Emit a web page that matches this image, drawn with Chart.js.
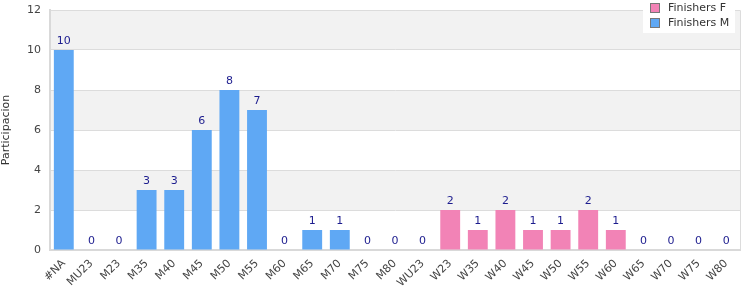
<!DOCTYPE html>
<html>
<head>
<meta charset="utf-8">
<script src="https://cdn.jsdelivr.net/npm/chart.js@4"></script>
<style>
  html, body { margin: 0; padding: 0; background: #fff; }
  #wrap { width: 750px; height: 300px; }
</style>
</head>
<body>
<div id="wrap"><canvas id="barChart" width="750" height="300"></canvas></div>
<script>
// categorias
const categories = ['#NA', 'MU23', 'M23', 'M35', 'M40', 'M45', 'M50', 'M55', 'M60', 'M65', 'M70', 'M75', 'M80',
  'WU23', 'W23', 'W35', 'W40', 'W45', 'W50', 'W55', 'W60', 'W65', 'W70', 'W75', 'W80'];
// finishers por categoria (null = no pertenece a la serie)
const finishersM = [10, 0, 0, 3, 3, 6, 8, 7, 0, 1, 1, 0, 0, 0, null, null, null, null, null, null, null, null, null, null, null];
const finishersF = [null, null, null, null, null, null, null, null, null, null, null, null, null, null, 2, 1, 2, 1, 1, 2, 1, 0, 0, 0, 0];
const yTicks = [0, 2, 4, 6, 8, 10, 12];

const FONT = 'DejaVu Sans';

// Bandas alternas de fondo y borde del area
const bandsPlugin = {
  id: 'bands',
  beforeDraw(chart) {
    const { ctx, chartArea, scales } = chart;
    const w = chartArea.right - chartArea.left;
    ctx.save();
    ctx.fillStyle = '#f2f2f2';
    [2, 6, 10].forEach(v => {
      const top = scales.y.getPixelForValue(v + 2);
      const bot = scales.y.getPixelForValue(v);
      ctx.fillRect(chartArea.left, top, w, bot - top);
    });
    ctx.strokeStyle = '#dcdcdc';
    ctx.lineWidth = 1;
    ctx.beginPath();
    ctx.moveTo(chartArea.left, chartArea.top + 0.5);
    ctx.lineTo(chartArea.right + 0.5, chartArea.top + 0.5);
    ctx.lineTo(chartArea.right + 0.5, chartArea.bottom);
    ctx.stroke();
    ctx.restore();
  }
};

// Etiquetas de valor y leyenda
const labelsPlugin = {
  id: 'valueLabels',
  afterDatasetsDraw(chart) {
    const { ctx } = chart;
    ctx.save();
    ctx.font = '11px ' + FONT;
    ctx.fillStyle = '#1c1c8e';
    ctx.textAlign = 'center';
    ctx.textBaseline = 'bottom';
    chart.data.datasets.forEach((ds, i) => {
      chart.getDatasetMeta(i).data.forEach((bar, j) => {
        const v = ds.data[j];
        if (v === null) return;
        ctx.fillText(String(v), bar.x, bar.y - 3);
      });
    });
    ctx.restore();
  },
  afterDraw(chart) {
    const { ctx } = chart;
    ctx.save();
    const x0 = 643, y0 = 0, w = 92, h = 33;
    ctx.fillStyle = '#ffffff';
    ctx.fillRect(x0, y0, w, h);
    ctx.font = '11px ' + FONT;
    ctx.textBaseline = 'middle';
    ctx.textAlign = 'left';
    chart.data.datasets.forEach((ds, i) => {
      const cy = 8 + i * 15;
      ctx.fillStyle = ds.backgroundColor;
      ctx.fillRect(651, cy - 4, 8, 8);
      ctx.strokeStyle = '#777';
      ctx.lineWidth = 1;
      ctx.strokeRect(650.5, cy - 4.5, 9, 9);
      ctx.fillStyle = '#333';
      ctx.fillText(ds.label, 668, cy);
    });
    ctx.restore();
  }
};

new Chart(document.getElementById('barChart').getContext('2d'), {
  type: 'bar',
  data: {
    labels: categories,
    datasets: [
      { label: 'Finishers F', data: finishersF, backgroundColor: '#f283b6' },
      { label: 'Finishers M', data: finishersM, backgroundColor: '#5fa8f4' }
    ]
  },
  options: {
    responsive: false,
    animation: false,
    layout: { padding: { top: 10, right: 10, left: 0, bottom: 0 } },
    datasets: { bar: { barPercentage: 0.72, categoryPercentage: 1 } },
    plugins: {
      legend: { display: false },
      tooltip: { enabled: false }
    },
    scales: {
      x: {
        stacked: true,
        grid: { display: false, drawTicks: false },
        border: { color: '#d9d9d9', width: 2 },
        ticks: {
          autoSkip: false,
          maxRotation: 45,
          minRotation: 45,
          padding: 7,
          color: '#444',
          font: { family: FONT, size: 11 }
        },
        afterFit(scale) {
          scale.height = 50;
          scale.paddingLeft = 0;
          scale.paddingRight = 0;
        }
      },
      y: {
        stacked: true,
        min: 0,
        max: 12,
        afterBuildTicks(scale) { scale.ticks = yTicks.map(v => ({ value: v })); },
        grid: { color: '#dcdcdc', drawTicks: false },
        border: { color: '#d9d9d9', width: 2 },
        ticks: {
          padding: 9,
          color: '#444',
          font: { family: FONT, size: 11 }
        },
        title: {
          display: true,
          text: 'Participacion',
          color: '#333',
          padding: 0,
          font: { family: FONT, size: 11 }
        },
        afterFit(scale) {
          scale.width = 50;
          scale.paddingTop = 0;
          scale.paddingBottom = 0;
        }
      }
    }
  },
  plugins: [bandsPlugin, labelsPlugin]
});
</script>
</body>
</html>
